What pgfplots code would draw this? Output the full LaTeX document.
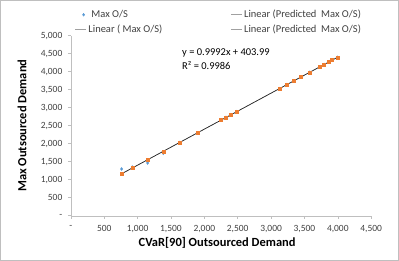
\documentclass[border=0pt]{standalone}
\usepackage{pgfplots}
\pgfplotsset{compat=1.18}
\usepackage{fontspec}
\setmainfont{Carlito}
\definecolor{sblue}{HTML}{5B9BD5}
\definecolor{sorange}{HTML}{ED7D31}
\definecolor{axgray}{HTML}{BFBFBF}
\definecolor{txtgray}{HTML}{404040}
\definecolor{lgray}{HTML}{A0A0A0}
\pgfplotsset{shortline/.style={legend image code/.code={\draw[##1] (0bp,0bp) -- (11bp,0bp);}}}
\pgfplotstableread{
x pred maxos
760 1163.4 1297
920 1323.3 1350
1150 1553.1 1464
1385 1787.9 1733
1630 2032.7 2030
1895 2297.5 2297
2250 2652.2 2652
2325 2727.1 2727
2400 2802.1 2802
2485 2887.0 2887
3125 3526.5 3526
3235 3636.4 3636
3335 3736.3 3736
3450 3851.2 3851
3580 3981.1 3981
3725 4126.0 4126
3795 4196.0 4196
3870 4270.9 4271
3915 4315.9 4316
3995 4395.8 4396
}\datatable
\begin{document}
\begin{tikzpicture}[x=1bp,y=1bp]
\draw[axgray,line width=0.6bp] (0.5,0.5) rectangle (398.5,260.5);
\begin{axis}[
  at={(71bp,45.3bp)}, anchor=south west,
  scale only axis, width=300bp, height=180bp,
  xmin=0, xmax=4500, ymin=0, ymax=5000,
  axis x line*=bottom, axis y line*=left,
  axis line style={axgray,-}, 
  xtick={0,500,...,4500}, ytick={0,500,...,5000},
  xticklabels={-,500,{1,000},{1,500},{2,000},{2,500},{3,000},{3,500},{4,000},{4,500}},
  yticklabels={-,500,{1,000},{1,500},{2,000},{2,500},{3,000},{3,500},{4,000},{4,500},{5,000}},
  tick style={axgray,line width=0.5bp},
  xtick align=outside, ytick align=outside,
  major tick length=3bp,
  tick label style={font=\fontsize{9.5}{11}\selectfont, text=txtgray},
  xticklabel style={yshift=-3bp},
  yticklabel style={xshift=-2bp},
  xlabel={\textbf{CVaR[90] Outsourced Demand}},
  ylabel={\textbf{Max Outsourced Demand}},
  label style={font=\fontsize{12.5}{14}\selectfont, text=black},
  xlabel style={at={(axis description cs:0.487,-0.152)}, anchor=center},
  ylabel style={at={(axis description cs:-0.163,0.5)}, anchor=center},
  clip=false,
  legend columns=2,
  legend style={draw=none, fill=none, at={(axis description cs:0.012,1.153)}, anchor=north west,
    font=\fontsize{10.5}{12}\selectfont, text=txtgray, row sep=1.5bp,
    /tikz/every even column/.append style={column sep=66bp}, inner sep=0pt},
  legend cell align=left,
]
\addplot[black!85, line width=0.7bp, forget plot] coordinates {(750,1153.4) (4000,4400.8)};
\addplot[only marks, mark=diamond*, mark size=1.5bp, sblue, mark options={draw=sblue,fill=sblue}, forget plot] table[x=x,y=maxos]{\datatable};
\addplot[only marks, mark=square*, mark size=1.5bp, sorange, mark options={draw=sorange,fill=sorange}, forget plot] table[x=x,y=pred]{\datatable};
\addplot[black!85, line width=0.4bp, densely dotted, forget plot] coordinates {(750,1153.4) (4000,4400.8)};
\addlegendimage{only marks, mark=diamond*, mark size=1.4bp, sblue}
\addlegendentry{\hspace{3bp}Max O/S}
\addlegendimage{lgray, line width=0.8bp, shortline}
\addlegendentry{Linear (Predicted\ \ Max O/S)}
\addlegendimage{lgray, line width=0.8bp, shortline}
\addlegendentry{Linear ( Max O/S)}
\addlegendimage{lgray, line width=0.8bp, shortline}
\addlegendentry{Linear (Predicted\ \ Max O/S)}
\node[anchor=west, align=left, font=\fontsize{10.5}{14}\selectfont, text=black, inner sep=0pt] at (axis cs:1665,4353) {y = 0.9992x + 403.99\\R² = 0.9986};
\end{axis}
\end{tikzpicture}
\end{document}
